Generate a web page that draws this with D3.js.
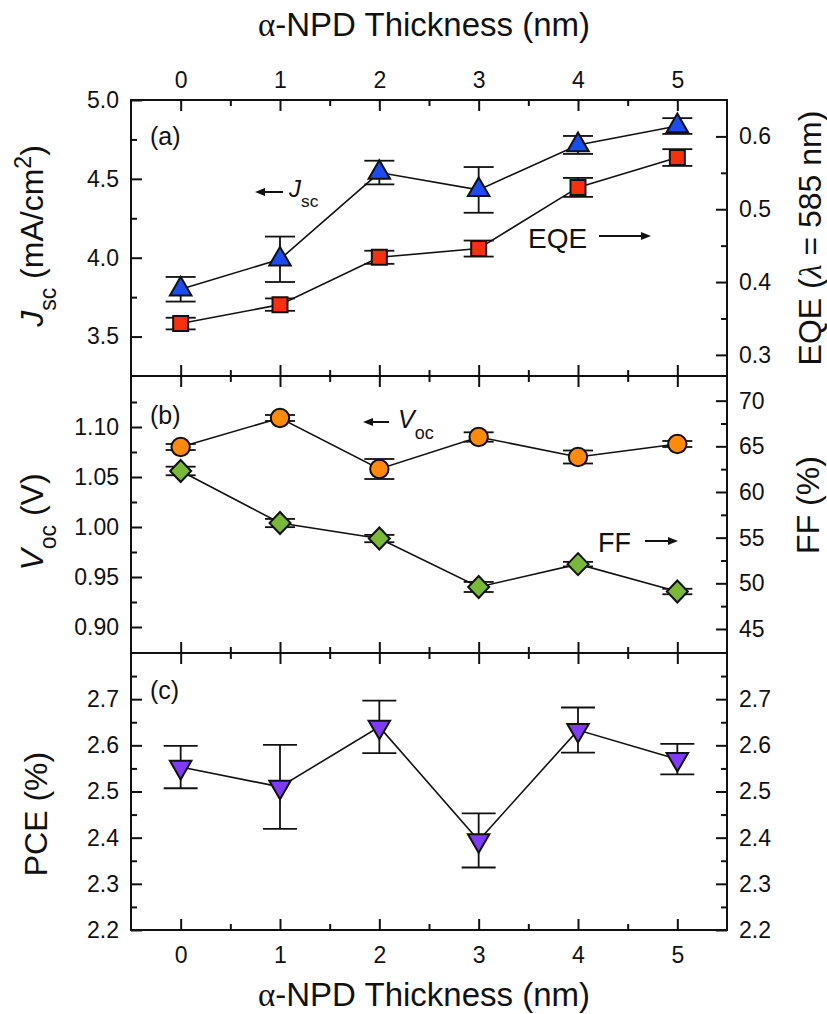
<!DOCTYPE html>
<html>
<head>
<meta charset="utf-8">
<script src="https://cdn.jsdelivr.net/npm/d3@7"></script>
<style>
  body { margin: 0; background: #fff; }
  svg text { font-family: "Liberation Sans", Arial, sans-serif; fill: #111; }
</style>
</head>
<body>
<svg id="chart" width="827" height="1014"></svg>
<script>
// Data
const thickness = [0, 1, 2, 3, 4, 5];

const jscVals = [3.80, 3.99, 4.54, 4.43, 4.715, 4.835];
const jscErr  = [0.078, 0.144, 0.075, 0.145, 0.057, 0.05];
const eqeVals = [0.343, 0.369, 0.434, 0.446, 0.530, 0.571];
const eqeErr  = [0.008, 0.0085, 0.009, 0.011, 0.013, 0.0115];

const vocVals = [1.080, 1.109, 1.058, 1.090, 1.070, 1.083];
const vocErr  = [0.003, 0.003, 0.010, 0.0047, 0.0065, 0.003];
const ffVals  = [62.3, 56.6, 54.9, 49.6, 52.1, 49.1];
const ffErr   = [0.47, 0.45, 0.4, 0.55, 0.25, 0.3];

const pceVals = [2.553, 2.51, 2.64, 2.394, 2.633, 2.57];
const pceErr  = [0.046, 0.091, 0.057, 0.0586, 0.049, 0.033];

// Tick values
const xMajor = [0, 1, 2, 3, 4, 5];
const xMinor = [0.5, 1.5, 2.5, 3.5, 4.5];
const jscTicks = [3.5, 4.0, 4.5, 5.0],  jscMinor = [3.75, 4.25, 4.75];
const eqeTicks = [0.3, 0.4, 0.5, 0.6],  eqeMinor = [0.35, 0.45, 0.55];
const vocTicks = [0.90, 0.95, 1.00, 1.05, 1.10], vocMinor = [0.925, 0.975, 1.025, 1.075, 1.125];
const ffTicks  = [45, 50, 55, 60, 65, 70], ffMinor = [47.5, 52.5, 57.5, 62.5, 67.5];
const pceTicks = [2.2, 2.3, 2.4, 2.5, 2.6, 2.7], pceMinor = [2.25, 2.35, 2.45, 2.55, 2.65, 2.75];

// Layout
const svg = d3.select("#chart");
const left = 131, right = 727;
const panelTop = [100, 376, 653];
const panelBottom = [376, 653, 930];
const tickFont = 23;
const titleFont = 32;

const x = d3.scaleLinear().domain([-0.5, 5.5]).range([left, right]);

const yJsc = d3.scaleLinear().domain([3.25, 5.0]).range([panelBottom[0], panelTop[0]]);
const yEqe = d3.scaleLinear().domain([0.271, 0.65]).range([panelBottom[0], panelTop[0]]);
const yVoc = d3.scaleLinear().domain([0.874, 1.151]).range([panelBottom[1], panelTop[1]]);
const yFF  = d3.scaleLinear().domain([42.37, 72.70]).range([panelBottom[1], panelTop[1]]);
const yPce = d3.scaleLinear().domain([2.2, 2.8]).range([panelBottom[2], panelTop[2]]);

// Axis helpers
function styleAxis(g) {
    g.select(".domain").remove();
    g.attr("font-family", "Liberation Sans, Arial, sans-serif").attr("font-size", tickFont);
    g.selectAll(".tick line").attr("stroke", "#111").attr("stroke-width", 2);
    g.selectAll(".tick text").attr("fill", "#111");
}

function yAxis(scale, side, majors, minors, fmt) {
    const mk = side === "left" ? d3.axisLeft : d3.axisRight;
    const xpos = side === "left" ? left : right;
    svg.append("g")
        .attr("transform", `translate(${xpos},0)`)
        .call(mk(scale).tickValues(majors).tickSize(-11).tickPadding(12).tickFormat(fmt))
        .call(styleAxis);
    svg.append("g")
        .attr("transform", `translate(${xpos},0)`)
        .call(mk(scale).tickValues(minors).tickSize(-6).tickFormat(""))
        .call(styleAxis);
}

function xAxis(ypos, side, labels) {
    const mk = side === "top" ? d3.axisTop : d3.axisBottom;
    svg.append("g")
        .attr("transform", `translate(0,${ypos})`)
        .call(mk(x).tickValues(xMajor).tickSize(-11)
            .tickPadding(side === "top" ? 12 : 17)
            .tickFormat(labels ? d3.format("d") : ""))
        .call(styleAxis);
    svg.append("g")
        .attr("transform", `translate(0,${ypos})`)
        .call(mk(x).tickValues(xMinor).tickSize(-6).tickFormat(""))
        .call(styleAxis);
}

// Ticks for each panel
for (let i = 0; i < 3; i++) {
    xAxis(panelTop[i], "top", i === 0);
    xAxis(panelBottom[i], "bottom", i === 2);
}
yAxis(yJsc, "left", jscTicks, jscMinor, d3.format(".1f"));
yAxis(yEqe, "right", eqeTicks, eqeMinor, d3.format(".1f"));
yAxis(yVoc, "left", vocTicks, vocMinor, d3.format(".2f"));
yAxis(yFF, "right", ffTicks, ffMinor, d3.format("d"));
yAxis(yPce, "left", pceTicks, pceMinor, d3.format(".1f"));
yAxis(yPce, "right", pceTicks, pceMinor, d3.format(".1f"));

// Panel frames
for (let i = 0; i < 3; i++) {
    svg.append("rect")
        .attr("x", left).attr("y", panelTop[i])
        .attr("width", right - left).attr("height", panelBottom[i] - panelTop[i])
        .attr("fill", "none").attr("stroke", "#111").attr("stroke-width", 2);
}

// Marker shapes
const triUp = d3.symbol().type(d3.symbolTriangle).size(200)();
const square = d3.symbol().type(d3.symbolSquare).size(225)();
const circle = d3.symbol().type(d3.symbolCircle).size(265)();
const diamond = "M0,-11L10.5,0L0,11L-10.5,0Z";

// One data series: line, error bars, markers
function series(vals, errs, yS, shape, color, capHalf, rot) {
    const pts = thickness.map((t, i) => ({ t: t, v: vals[i], e: errs[i] }));
    const g = svg.append("g");

    g.append("path")
        .datum(pts)
        .attr("d", d3.line().x(d => x(d.t)).y(d => yS(d.v)))
        .attr("fill", "none").attr("stroke", "#111").attr("stroke-width", 1.6);

    const eb = g.append("g").selectAll("g").data(pts).enter().append("g")
        .attr("stroke", "#111").attr("stroke-width", 1.8);
    eb.append("line")
        .attr("x1", d => x(d.t)).attr("x2", d => x(d.t))
        .attr("y1", d => yS(d.v - d.e)).attr("y2", d => yS(d.v + d.e));
    eb.append("line")
        .attr("x1", d => x(d.t) - capHalf).attr("x2", d => x(d.t) + capHalf)
        .attr("y1", d => yS(d.v + d.e)).attr("y2", d => yS(d.v + d.e));
    eb.append("line")
        .attr("x1", d => x(d.t) - capHalf).attr("x2", d => x(d.t) + capHalf)
        .attr("y1", d => yS(d.v - d.e)).attr("y2", d => yS(d.v - d.e));

    g.append("g").selectAll("path").data(pts).enter().append("path")
        .attr("d", shape)
        .attr("transform", d => `translate(${x(d.t)},${yS(d.v)})` + (rot ? ` rotate(${rot})` : ""))
        .attr("fill", color).attr("stroke", "#111").attr("stroke-width", 2);
}

series(eqeVals, eqeErr, yEqe, square, "#f8300c", 15, 0);
series(jscVals, jscErr, yJsc, triUp, "#1a4cf0", 15, 0);
series(ffVals, ffErr, yFF, diamond, "#7ab83a", 15, 0);
series(vocVals, vocErr, yVoc, circle, "#ff8a0c", 15, 0);
series(pceVals, pceErr, yPce, triUp, "#7f3cf4", 17, 180);

// Text with sub/superscripts and serif greek letters
function richText(parent, parts, size, anchor) {
    const t = parent.append("text").attr("text-anchor", anchor).attr("font-size", size);
    let shift = 0;
    parts.forEach(p => {
        const target = p.sub ? size * 0.42 : (p.sup ? -size * 0.38 : 0);
        const s = t.append("tspan").text(p.t).attr("dy", target - shift);
        shift = target;
        if (p.sub || p.sup) s.attr("font-size", size * 0.72);
        if (p.it) s.attr("font-style", "italic");
        if (p.serif) s.attr("font-family", "Liberation Serif, DejaVu Serif, serif");
    });
    return t;
}

function label(xp, yp, parts, size, anchor, rot) {
    const g = svg.append("g").attr("transform", `translate(${xp},${yp})` + (rot ? ` rotate(${rot})` : ""));
    return richText(g, parts, size, anchor);
}

// Axis titles
const thickTitle = [{ t: "α", serif: true }, { t: "-NPD Thickness (nm)" }];
label(424, 36, thickTitle, 33, "middle");
label(424, 1006, thickTitle, 33, "middle");
label(43, 236, [{ t: "J", it: true }, { t: "sc", sub: true }, { t: " (mA/cm" }, { t: "2", sup: true }, { t: ")" }], titleFont, "middle", -90);
label(43, 522, [{ t: "V", it: true }, { t: "oc", sub: true }, { t: " (V)" }], titleFont, "middle", -90);
label(47, 814, [{ t: "PCE (%)" }], titleFont, "middle", -90);
label(821, 238, [{ t: "EQE (" }, { t: "λ", serif: true, it: true }, { t: " = 585 nm)" }], titleFont, "middle", -90);
label(819, 505, [{ t: "FF (%)" }], titleFont, "middle", -90);

// Panel letters
label(150, 145, [{ t: "(a)" }], 25, "start");
label(150, 424, [{ t: "(b)" }], 25, "start");
label(150, 699, [{ t: "(c)" }], 25, "start");

// Arrows pointing at the axis each series belongs to
function arrow(x1, y, x2) {
    const dir = x2 > x1 ? 1 : -1;
    svg.append("line")
        .attr("x1", x1).attr("x2", x2 - dir * 6).attr("y1", y).attr("y2", y)
        .attr("stroke", "#111").attr("stroke-width", 2);
    svg.append("path")
        .attr("d", `M${x2},${y}L${x2 - dir * 10},${y - 4}L${x2 - dir * 10},${y + 4}Z`)
        .attr("fill", "#111");
}

arrow(283, 192, 255);
label(289, 197, [{ t: "J", it: true }, { t: "sc", sub: true }], 24, "start");
arrow(389, 422, 363);
label(398, 428, [{ t: "V", it: true }, { t: "oc", sub: true }], 25, "start");
label(528, 248, [{ t: "EQE" }], 28, "start");
arrow(599, 236, 651);
label(598, 552, [{ t: "FF" }], 27, "start");
arrow(645, 541, 678);
</script>
</body>
</html>
